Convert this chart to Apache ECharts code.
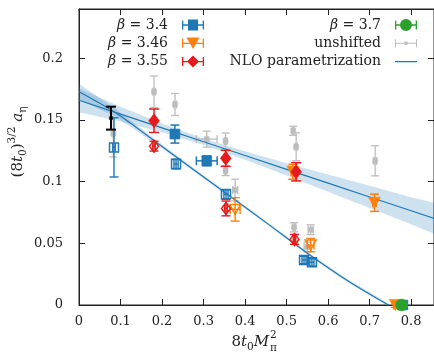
<!DOCTYPE html>
<html><head><meta charset="utf-8">
<script src="https://cdn.jsdelivr.net/npm/echarts@6/dist/echarts.min.js"></script>
<style>html,body{margin:0;padding:0;background:#fff}#c{width:434px;height:354px}</style>
</head><body><div id="c"></div>
<script>
// ---------- data ----------
// x ticks / y ticks
const xTicks = [0, 0.1, 0.2, 0.3, 0.4, 0.5, 0.6, 0.7, 0.8];
const yTicks = [0, 0.05, 0.1, 0.15, 0.2];

// beta = 3.4 (filled = shifted, open = second set)
const b34FX = [0.231, 0.3077, 0.780];
const b34FY = [0.1386, 0.1169, 0.0];
const b34FEY = [0.0073, 0.004, 0.001];
const b34FEX = [0.005, 0.025, 0.004];
const b34OX = [0.0843, 0.2337, 0.354, 0.542, 0.561];
const b34OY = [0.1278, 0.1143, 0.0897, 0.0365, 0.0346];
const b34OEY = [0.024, 0.004, 0.004, 0.003, 0.003];
const b34OEX = [0.003, 0.005, 0.005, 0.005, 0.005];

// beta = 3.46
const b346FX = [0.515, 0.7116, 0.762];
const b346FY = [0.108, 0.0829, 0.0];
const b346FEY = [0.006, 0.007, 0.002];
const b346FEX = [0.004, 0.004, 0.004];
const b346OX = [0.376, 0.558];
const b346OY = [0.0775, 0.0486];
const b346OEY = [0.0095, 0.0054];
const b346OEX = [0.012, 0.008];

// beta = 3.55
const b355FX = [0.1807, 0.3534, 0.523];
const b355FY = [0.1494, 0.1189, 0.108];
const b355FEY = [0.0095, 0.0065, 0.0074];
const b355FEX = [0.003, 0.003, 0.003];
const b355OX = [0.1807, 0.354, 0.519];
const b355OY = [0.1288, 0.0783, 0.0532];
const b355OEY = [0.004, 0.006, 0.004];
const b355OEX = [0.003, 0.003, 0.003];

// beta = 3.7
const b37X = [0.777];
const b37Y = [0.0];
const b37EY = [0.001];
const b37EX = [0.004];

// unshifted
const unX = [0.0827, 0.1807, 0.2313, 0.3077, 0.353, 0.353, 0.376, 0.516, 0.523, 0.7133, 0.518, 0.558, 0.550];
const unY = [0.139, 0.1729, 0.1626, 0.1345, 0.1329, 0.1089, 0.0932, 0.1413, 0.1283, 0.1169, 0.063, 0.061, 0.047];
const unEY = [0.019, 0.0128, 0.0089, 0.0065, 0.0065, 0.004, 0.0088, 0.0037, 0.0113, 0.0122, 0.0037, 0.004, 0.004];
const unEX = [0.003, 0.003, 0.003, 0.025, 0.003, 0.003, 0.006, 0.003, 0.003, 0.003, 0.003, 0.006, 0.008];

// physical point (black)
const physX = [0.077];
const physY = [0.1515];
const physEY = [0.0093];
const physEX = [0.0];

// NLO parametrization: shallow curve + band
const nlo1X = [0, 0.1, 0.2, 0.3, 0.4, 0.5, 0.6, 0.7, 0.8, 0.86];
const nlo1Y = [0.166, 0.1548, 0.1436, 0.1324, 0.1212, 0.110, 0.0988, 0.0876, 0.0764, 0.0697];
const nlo1Lo = [0.1563, 0.1488, 0.1401, 0.1298, 0.1177, 0.105, 0.0918, 0.0786, 0.0654, 0.0570];
const nlo1Hi = [0.1757, 0.1608, 0.1471, 0.1350, 0.1247, 0.115, 0.1058, 0.0966, 0.0874, 0.0824];
// NLO parametrization: steep curve + band
const nlo2X = [0, 0.09, 0.2, 0.344, 0.45, 0.55, 0.65, 0.745];
const nlo2Y = [0.1729, 0.1555, 0.1285, 0.093, 0.067, 0.042, 0.019, 0.0];
const nlo2Lo = [0.1664, 0.1525, 0.1268, 0.0918, 0.0658, 0.0408, 0.0178, -0.0012];
const nlo2Hi = [0.1794, 0.1585, 0.1302, 0.0942, 0.0682, 0.0432, 0.0202, 0.0012];

// ---------- helpers ----------
const BLUE = '#1f77b4', ORANGE = '#ff7f0e', RED = '#e41a1c', GREEN = '#2ca02c', GRAY = '#bdbdbd';
const FONT = 'DejaVu Serif';

function rows(xs, ys, eys, exs) { return xs.map((x, i) => [x, ys[i], eys[i], exs[i]]); }
function zip2(a, b) { return a.map((x, i) => [x, b[i]]); }

function ptRender(o) {
  return function (params, api) {
    const x = api.value(0), y = api.value(1), ey = api.value(2), ex = api.value(3);
    const c = api.coord([x, y]);
    const t = api.coord([x, y + ey]), b = api.coord([x, y - ey]);
    const l = api.coord([x - ex, y]), r = api.coord([x + ex, y]);
    const ls = { stroke: o.color, lineWidth: o.lw, fill: null };
    const bars = [
      { type: 'line', shape: { x1: c[0], y1: t[1], x2: c[0], y2: b[1] }, style: ls },
      { type: 'line', shape: { x1: c[0] - o.cap, y1: t[1], x2: c[0] + o.cap, y2: t[1] }, style: ls },
      { type: 'line', shape: { x1: c[0] - o.cap, y1: b[1], x2: c[0] + o.cap, y2: b[1] }, style: ls }
    ];
    if (ex > 0) {
      bars.push({ type: 'line', shape: { x1: l[0], y1: c[1], x2: r[0], y2: c[1] }, style: ls });
      bars.push({ type: 'line', shape: { x1: l[0], y1: c[1] - o.cap, x2: l[0], y2: c[1] + o.cap }, style: ls });
      bars.push({ type: 'line', shape: { x1: r[0], y1: c[1] - o.cap, x2: r[0], y2: c[1] + o.cap }, style: ls });
    }
    const ms = o.filled ? { fill: o.color, stroke: o.color, lineWidth: 0.5 } : { fill: 'none', stroke: o.color, lineWidth: 1.5 };
    const w = o.w, h = o.h, cx = c[0], cy = c[1];
    let m;
    if (o.shape === 'square') m = { type: 'rect', shape: { x: cx - w / 2, y: cy - h / 2, width: w, height: h }, style: ms };
    else if (o.shape === 'tri') m = { type: 'polygon', shape: { points: [[cx - w / 2, cy - h / 2], [cx + w / 2, cy - h / 2], [cx, cy + h / 2]] }, style: ms };
    else if (o.shape === 'diamond') m = { type: 'polygon', shape: { points: [[cx, cy - h / 2], [cx + w / 2, cy], [cx, cy + h / 2], [cx - w / 2, cy]] }, style: ms };
    else m = { type: 'circle', shape: { cx: cx, cy: cy, r: w / 2 }, style: ms };
    const children = o.filled ? bars.concat([m]) : [m].concat(bars);
    return { type: 'group', children: children };
  };
}

function bandRender(xs, lo, hi) {
  return function (params, api) {
    if (params.dataIndex !== 0) return null;
    const pts = [];
    for (let i = 0; i < xs.length; i++) pts.push(api.coord([xs[i], hi[i]]));
    for (let i = xs.length - 1; i >= 0; i--) pts.push(api.coord([xs[i], lo[i]]));
    return { type: 'polygon', shape: { points: pts }, style: { fill: 'rgba(31,119,180,0.22)' } };
  };
}

function ptSeries(name, data, o, z) {
  return { type: 'custom', name: name, data: data, renderItem: ptRender(o), clip: false, z: z,
           encode: { x: 0, y: 1 }, itemStyle: { color: o.color }, silent: true };
}

// legend icons (22 x 12 box), corner anchors keep the box size
const anchor = 'M0,0h0.01v0.01h-0.01z M21.99,11.99h0.01v0.01h-0.01z ';
const ebar = 'M0,1.5h1.3v9h-1.3z M20.7,1.5h1.3v9h-1.3z M0,5.35h22v1.3h-22z ';
const icons = {
  b34: 'path://' + anchor + ebar + 'M6,0.5h10v11h-10z',
  b346: 'path://' + anchor + ebar + 'M4.5,0.3L17.5,0.3L11,11.7z',
  b355: 'path://' + anchor + ebar + 'M11,0L17,6L11,12L5,6z',
  b37: 'path://' + anchor + ebar + 'M5,6a6,6 0 1,1 12,0a6,6 0 1,1 -12,0z',
  un: 'path://' + anchor + 'M0,2h1h0v8h-1z M21,2h1v8h-1z M0,5.5h22v1h-22z M9.5,4.3h3v3.4h-3z',
  nlo: 'path://' + anchor + 'M0,5.4h22v1.2h-22z'
};
const legendNames = {
  b34: '{i|β} = 3.4', b346: '{i|β} = 3.46', b355: '{i|β} = 3.55',
  b37: '{i|β} = 3.7', un: 'unshifted', nlo: 'NLO parametrization'
};
const legendText = {
  fontFamily: FONT, fontSize: 14, color: '#222', padding: [0, 9, 0, 0], lineHeight: 12,
  rich: { i: { fontFamily: FONT, fontStyle: 'italic', fontSize: 14, color: '#222', lineHeight: 12 } }
};
function legendItem(n, color) { return { name: n, icon: icons[n], itemStyle: { color: color, borderWidth: 0 } }; }

const tickLabel = { fontFamily: FONT, fontSize: 13, color: '#222' };
function frameLine() { return { show: true, onZero: false, lineStyle: { color: '#222', width: 1 } }; }
function frameTick() { return { show: true, inside: true, length: 6, lineStyle: { color: '#222', width: 1 } }; }

const chart = echarts.init(document.getElementById('c'), null, { renderer: 'canvas' });
chart.setOption({
  animation: false,
  backgroundColor: '#fff',
  grid: { left: 79, right: 0, top: 9, bottom: 49, show: true, borderColor: '#222', borderWidth: 1, backgroundColor: 'transparent' },
  xAxis: [
    { type: 'value', min: 0, max: 0.855, interval: 0.1, position: 'bottom',
      axisLine: frameLine(), axisTick: frameTick(),
      axisLabel: { show: true, margin: 10, showMaxLabel: false, ...tickLabel,
        formatter: v => (xTicks.some(t => Math.abs(t - v) < 1e-9) ? String(+v.toFixed(2)) : '') },
      splitLine: { show: false } },
    { type: 'value', show: true, min: 0, max: 0.855, interval: 0.1, position: 'top',
      axisLine: frameLine(), axisTick: frameTick(),
      axisLabel: { show: false }, splitLine: { show: false } }
  ],
  yAxis: [
    { type: 'value', min: 0, max: 0.24, interval: 0.05, position: 'left',
      axisLine: frameLine(), axisTick: frameTick(),
      axisLabel: { show: true, margin: 16, showMaxLabel: false, ...tickLabel,
        formatter: v => (yTicks.some(t => Math.abs(t - v) < 1e-9) ? String(+v.toFixed(2)) : '') },
      splitLine: { show: false } },
    { type: 'value', show: true, min: 0, max: 0.24, interval: 0.05, position: 'right',
      axisLine: frameLine(), axisTick: frameTick(),
      axisLabel: { show: false }, splitLine: { show: false } }
  ],
  legend: [
    { orient: 'vertical', align: 'right', right: 230, top: 18, itemWidth: 22, itemHeight: 12, itemGap: 4.3,
      padding: 0, selectedMode: false, textStyle: legendText, formatter: n => legendNames[n],
      data: [legendItem('b34', BLUE), legendItem('b346', ORANGE), legendItem('b355', RED)] },
    { orient: 'vertical', align: 'right', right: 17, top: 18, itemWidth: 22, itemHeight: 12, itemGap: 4.3,
      padding: 0, selectedMode: false, textStyle: legendText, formatter: n => legendNames[n],
      data: [legendItem('b37', GREEN), legendItem('un', GRAY), legendItem('nlo', BLUE)] }
  ],
  graphic: [
    { type: 'text', x: 18, y: 142, rotation: Math.PI / 2,
      style: { text: '(8{i|t}{sub|0}){sup|3/2} {i|a}{sub|η}', align: 'center', verticalAlign: 'middle',
        fontFamily: FONT, fontSize: 15, fill: '#222', lineHeight: 22,
        rich: { i: { fontFamily: FONT, fontStyle: 'italic', fontSize: 15, lineHeight: 22, fill: '#222' },
                sub: { fontFamily: FONT, fontSize: 10.5, verticalAlign: 'bottom', lineHeight: 15, fill: '#222' },
                sup: { fontFamily: FONT, fontSize: 10.5, verticalAlign: 'top', lineHeight: 11, fill: '#222' } } } },
    { type: 'text', x: 269, y: 342,
      style: { text: '8{i|t}{sub|0}{i|M}', align: 'right', verticalAlign: 'middle',
        fontFamily: FONT, fontSize: 15, fill: '#222', lineHeight: 22,
        rich: { i: { fontFamily: FONT, fontStyle: 'italic', fontSize: 15, lineHeight: 22, fill: '#222' },
                sub: { fontFamily: FONT, fontSize: 10.5, verticalAlign: 'bottom', lineHeight: 15, fill: '#222' } } } },
    { type: 'text', x: 270, y: 335, style: { text: '2', align: 'left', verticalAlign: 'middle', fontFamily: FONT, fontSize: 10.5, fill: '#222' } },
    { type: 'text', x: 270, y: 348, style: { text: 'π', align: 'left', verticalAlign: 'middle', fontFamily: FONT, fontSize: 10.5, fill: '#222' } }
  ],
  series: [
    { type: 'custom', name: 'band1', xAxisIndex: 1, yAxisIndex: 1, data: zip2(nlo1X, nlo1Lo), renderItem: bandRender(nlo1X, nlo1Lo, nlo1Hi), clip: true, z: 1, silent: true, encode: { x: 0, y: 1 } },
    { type: 'custom', name: 'band2', data: zip2(nlo2X, nlo2Lo), renderItem: bandRender(nlo2X, nlo2Lo, nlo2Hi), clip: true, z: 1, silent: true, encode: { x: 0, y: 1 } },
    ptSeries('un', rows(unX, unY, unEY, unEX), { color: GRAY, shape: 'square', filled: true, w: 5, h: 5, cap: 4, lw: 1.3 }, 2),
    { type: 'line', name: 'nlo', data: zip2(nlo1X, nlo1Y), showSymbol: false, smooth: false, clip: true, z: 3, silent: true,
      lineStyle: { color: BLUE, width: 1.2 }, itemStyle: { color: BLUE } },
    { type: 'line', name: 'nlo', data: zip2(nlo2X, nlo2Y), showSymbol: false, smooth: 0.3, clip: true, z: 3, silent: true,
      lineStyle: { color: BLUE, width: 1.2 }, itemStyle: { color: BLUE } },
    ptSeries('b34', rows(b34OX, b34OY, b34OEY, b34OEX), { color: BLUE, shape: 'square', filled: false, w: 9, h: 9, cap: 4.5, lw: 1.4 }, 4),
    ptSeries('b346', rows(b346OX, b346OY, b346OEY, b346OEX), { color: ORANGE, shape: 'tri', filled: false, w: 11, h: 10, cap: 4.5, lw: 1.4 }, 4),
    ptSeries('b355', rows(b355OX, b355OY, b355OEY, b355OEX), { color: RED, shape: 'diamond', filled: false, w: 9, h: 12, cap: 4.5, lw: 1.4 }, 4),
    ptSeries('b34', rows(b34FX, b34FY, b34FEY, b34FEX), { color: BLUE, shape: 'square', filled: true, w: 10, h: 10, cap: 4.5, lw: 1.5 }, 5),
    ptSeries('b346', rows(b346FX, b346FY, b346FEY, b346FEX), { color: ORANGE, shape: 'tri', filled: true, w: 12, h: 11, cap: 4.5, lw: 1.5 }, 5),
    ptSeries('b355', rows(b355FX, b355FY, b355FEY, b355FEX), { color: RED, shape: 'diamond', filled: true, w: 11, h: 14, cap: 5, lw: 1.5 }, 6),
    ptSeries('b37', rows(b37X, b37Y, b37EY, b37EX), { color: GREEN, shape: 'circle', filled: true, w: 12, h: 12, cap: 4.5, lw: 1.5 }, 6),
    ptSeries('phys', rows(physX, physY, physEY, physEX), { color: '#000', shape: 'square', filled: true, w: 3, h: 3, cap: 5, lw: 2 }, 7)
  ]
});
</script>
</body></html>
